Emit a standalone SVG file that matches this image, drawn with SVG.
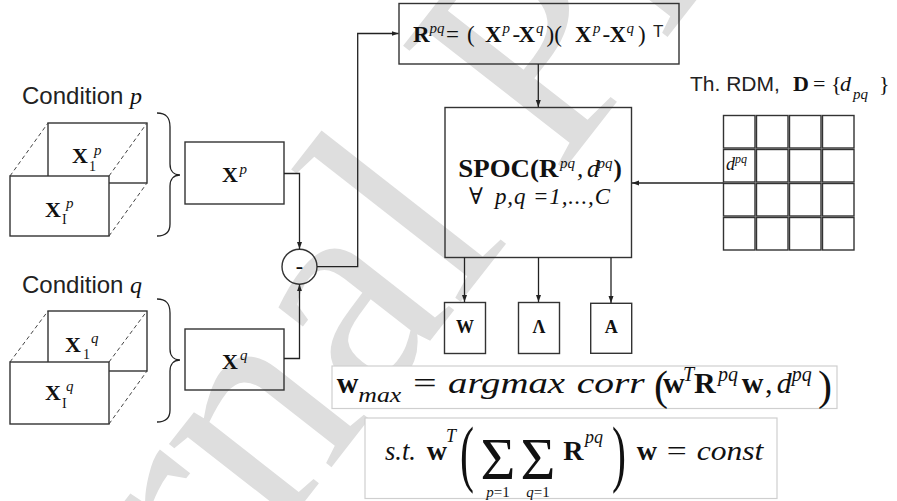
<svg xmlns="http://www.w3.org/2000/svg" width="897" height="501" viewBox="0 0 897 501">
<defs>
<marker id="ah" markerWidth="8" markerHeight="6" refX="7" refY="2.5" orient="auto" markerUnits="userSpaceOnUse"><path d="M0,0 L7,2.5 L0,5 z" fill="#222"/></marker>
</defs>
<style>
.box{fill:none;stroke:#333;stroke-width:1.4}
.wbox{fill:#fff;stroke:#333;stroke-width:1.4}
.dash{stroke:#444;stroke-width:1;stroke-dasharray:4 3;fill:none}
.conn{fill:none;stroke:#222;stroke-width:1.3}
.sans{font-family:"Liberation Sans",Arial,sans-serif;fill:#222}
.ser{font-family:"Liberation Serif","Times New Roman","DejaVu Serif",serif;fill:#111}
.b{font-weight:bold}
.i{font-style:italic}
.fbox{fill:#fff;stroke:#cfcfcf;stroke-width:1.2}
.wm{font-family:"Liberation Serif","Times New Roman",serif;fill:#dedede}
.mid{text-anchor:middle}
</style>
<rect width="897" height="501" fill="#fff"/>
<g id="watermark">
<text class="wm" font-size="310" transform="translate(-52,958) rotate(-52)">Journal Pre-proof</text>
</g>
<g id="cond-p">
<text class="sans" x="22" y="103.5" font-size="24">Condition <tspan class="ser i">p</tspan></text>
<rect class="wbox" x="48" y="123" width="99" height="60"/>
<path class="dash" d="M10,176 L48,123 M109,176 L147,123 M109,236 L147,183"/>
<rect class="wbox" x="10" y="176" width="99" height="60"/>
<text class="ser" font-size="22"><tspan class="b" x="72" y="163">X</tspan><tspan x="89" y="171" font-size="14">1</tspan><tspan class="i" x="94" y="155" font-size="15">p</tspan></text>
<text class="ser" font-size="22"><tspan class="b" x="45" y="217">X</tspan><tspan x="62" y="224" font-size="14">I</tspan><tspan class="i" x="66" y="208" font-size="15">p</tspan></text>
<path class="conn" d="M157,113 C166,113 170,117 170,127 L170,164 C170,171 174,175 180,175 C174,175 170,179 170,186 L170,224 C170,232 166,236 157,236"/>
</g>
<g id="cond-q">
<text class="sans" x="22" y="292.5" font-size="24">Condition <tspan class="ser i">q</tspan></text>
<rect class="wbox" x="48" y="311" width="99" height="60"/>
<path class="dash" d="M10,362 L48,311 M109,362 L147,311 M109,424 L147,371"/>
<rect class="wbox" x="10" y="362" width="99" height="62"/>
<text class="ser" font-size="22"><tspan class="b" x="65" y="351.5">X</tspan><tspan x="83" y="359" font-size="14">1</tspan><tspan class="i" x="91" y="343" font-size="15">q</tspan></text>
<text class="ser" font-size="22"><tspan class="b" x="45" y="400">X</tspan><tspan x="62" y="408" font-size="14">I</tspan><tspan class="i" x="66" y="391" font-size="15">q</tspan></text>
<path class="conn" d="M157,299 C166,299 170,303 170,313 L170,349 C170,356 174,360 180,360 C174,360 170,364 170,371 L170,410 C170,418 166,422 157,422"/>
</g>
<g id="xp">
<rect class="box" x="185" y="142" width="99" height="62"/>
<text class="ser" font-size="22"><tspan class="b" x="222" y="182">X</tspan><tspan class="i" x="239.5" y="174" font-size="15">p</tspan></text>
</g>
<g id="xq">
<rect class="box" x="185" y="329" width="99" height="61"/>
<text class="ser" font-size="22"><tspan class="b" x="222" y="368.5">X</tspan><tspan class="i" x="240" y="360" font-size="15">q</tspan></text>
</g>
<g id="minus">
<circle class="box" cx="299.5" cy="266.7" r="17.5"/>
<text class="ser b mid" x="299.5" y="273" font-size="22">-</text>
</g>
<g id="rpq">
<rect class="box" x="399" y="3.5" width="280" height="60.5"/>
<text class="ser" font-size="23">
<tspan class="b" x="413" y="41.5">R</tspan><tspan class="i" x="429.5" y="33" font-size="15">pq</tspan><tspan x="446" y="41.5">=</tspan><tspan x="467" y="41.5">(</tspan><tspan class="b" x="485" y="41.5">X</tspan><tspan class="i" x="502.5" y="33" font-size="15">p</tspan><tspan x="512.5" y="41.5">-</tspan><tspan class="b" x="518.5" y="41.5">X</tspan><tspan class="i" x="536" y="33" font-size="15">q</tspan><tspan x="546.5" y="41.5">)(</tspan><tspan class="b" x="575" y="41.5">X</tspan><tspan class="i" x="593" y="33" font-size="15">p</tspan><tspan x="602.5" y="41.5">-</tspan><tspan class="b" x="609.5" y="41.5">X</tspan><tspan class="i" x="626.5" y="33" font-size="15">q</tspan><tspan x="638" y="41.5">)</tspan><tspan class="sans" x="653" y="37" font-size="17">T</tspan>
</text>
</g>
<g id="spoc">
<rect class="box" x="445" y="107.5" width="186.5" height="150"/>
<text class="ser" font-size="25"><tspan class="b" x="458.3" y="176.7" textLength="100" lengthAdjust="spacingAndGlyphs">SPOC(R</tspan><tspan class="i" x="560" y="168" font-size="15">pq</tspan><tspan class="i" x="577" y="176.7">,</tspan><tspan class="i" x="587" y="176.7">d</tspan><tspan class="i" x="597.5" y="168" font-size="15">pq</tspan><tspan class="b" x="613.5" y="176.7">)</tspan></text>
<text class="ser" font-size="23"><tspan x="469" y="204">∀</tspan><tspan class="i" x="495" y="204" textLength="115" lengthAdjust="spacing">p,q =1,...,C</tspan></text>
</g>
<g id="out-w">
<rect class="box" x="444.5" y="302.5" width="41" height="51"/>
<text class="ser b mid" x="465" y="333" font-size="18">W</text>
</g>
<g id="out-lambda">
<rect class="box" x="518.5" y="302.5" width="41" height="51"/>
<text class="ser b mid" x="539" y="333" font-size="18">Λ</text>
</g>
<g id="out-a">
<rect class="box" x="590.7" y="303.3" width="41" height="50"/>
<text class="ser b mid" x="611.2" y="333" font-size="18">A</text>
</g>
<g id="rdm">
<text class="sans" x="690" y="91" font-size="21">Th. RDM, </text>
<text class="ser" font-size="22"><tspan class="b" x="793" y="91">D</tspan><tspan x="813" y="91">=</tspan><tspan x="831" y="91">{</tspan><tspan class="i" x="840" y="91">d</tspan><tspan class="i" x="853" y="99" font-size="15">pq</tspan><tspan x="879" y="91">}</tspan></text>
<g class="box">
<rect x="723.5" y="115.5" width="31.5" height="32.5"/><rect x="756.5" y="115.5" width="31.5" height="32.5"/><rect x="789.5" y="115.5" width="31.5" height="32.5"/><rect x="822.5" y="115.5" width="31.5" height="32.5"/>
<rect x="723.5" y="149.5" width="31.5" height="32.5"/><rect x="756.5" y="149.5" width="31.5" height="32.5"/><rect x="789.5" y="149.5" width="31.5" height="32.5"/><rect x="822.5" y="149.5" width="31.5" height="32.5"/>
<rect x="723.5" y="183.5" width="31.5" height="32.5"/><rect x="756.5" y="183.5" width="31.5" height="32.5"/><rect x="789.5" y="183.5" width="31.5" height="32.5"/><rect x="822.5" y="183.5" width="31.5" height="32.5"/>
<rect x="723.5" y="217.5" width="31.5" height="32.5"/><rect x="756.5" y="217.5" width="31.5" height="32.5"/><rect x="789.5" y="217.5" width="31.5" height="32.5"/><rect x="822.5" y="217.5" width="31.5" height="32.5"/>
</g>
<text class="ser i" font-size="18"><tspan x="726" y="170">d</tspan><tspan x="735" y="163" font-size="12">pq</tspan></text>
</g>
<g id="formula-1">
<rect class="fbox" x="332" y="366" width="505" height="42.5"/>
<text class="ser" font-size="30">
<tspan class="b" x="336.7" y="393">w</tspan><tspan class="i" x="358.3" y="402" font-size="21" textLength="43" lengthAdjust="spacingAndGlyphs">max</tspan><tspan x="413" y="393" textLength="23.7" lengthAdjust="spacingAndGlyphs">=</tspan><tspan class="i" x="448" y="393" textLength="117" lengthAdjust="spacingAndGlyphs">argmax</tspan><tspan class="i" x="576.7" y="393" textLength="68" lengthAdjust="spacingAndGlyphs">corr</tspan><tspan x="654" y="400" font-size="42">(</tspan><tspan class="b" x="663" y="393">w</tspan><tspan class="i" x="683" y="381" font-size="20">T</tspan><tspan class="b" x="694" y="393">R</tspan><tspan class="i" x="718" y="381" font-size="20">pq</tspan><tspan class="b" x="741.7" y="393">w</tspan><tspan x="765" y="393">,</tspan><tspan class="i" x="776.7" y="393">d</tspan><tspan class="i" x="791.7" y="381" font-size="20">pq</tspan><tspan x="818" y="400" font-size="42">)</tspan>
</text>
</g>
<g id="formula-2">
<rect class="fbox" x="365" y="418" width="412" height="80.5"/>
<text class="ser" font-size="28">
<tspan class="i" x="385" y="460" textLength="31" lengthAdjust="spacingAndGlyphs">s.t.</tspan><tspan class="b" x="426.7" y="460">w</tspan><tspan class="i" x="446" y="442" font-size="18">T</tspan><tspan class="b" x="563.3" y="460">R</tspan><tspan class="i" x="585" y="443" font-size="18">pq</tspan><tspan class="b" x="636.7" y="460">w</tspan><tspan x="666.7" y="460" textLength="20" lengthAdjust="spacingAndGlyphs">=</tspan><tspan class="i" x="696.7" y="460" textLength="66.7" lengthAdjust="spacingAndGlyphs">const</tspan>
</text>
<text class="ser" font-size="42" transform="translate(460,478) scale(1,1.75)">(</text>
<text class="ser" font-size="42" transform="translate(612,478) scale(1,1.75)">)</text>
<text class="ser mid" font-size="60" x="498" y="479">Σ</text>
<text class="ser mid" font-size="60" x="538" y="479">Σ</text>
<text class="ser mid" font-size="15" x="498" y="496.5"><tspan class="i">p</tspan>=1</text>
<text class="ser mid" font-size="15" x="538" y="496.5"><tspan class="i">q</tspan>=1</text>
</g>
<g id="connectors">
<path class="conn" marker-end="url(#ah)" d="M284,173.5 H299.5 V249"/>
<path class="conn" marker-end="url(#ah)" d="M284,358.5 H299.5 V284.3"/>
<path class="conn" marker-end="url(#ah)" d="M317,266.7 H357.7 V33.5 H398.5"/>
<path class="conn" marker-end="url(#ah)" d="M538.3,64 V107"/>
<path class="conn" marker-end="url(#ah)" d="M723.5,183 H632"/>
<path class="conn" marker-end="url(#ah)" d="M464.5,257.5 V302"/>
<path class="conn" marker-end="url(#ah)" d="M538.5,257.5 V302"/>
<path class="conn" marker-end="url(#ah)" d="M611,257.5 V303"/>
</g>
</svg>
